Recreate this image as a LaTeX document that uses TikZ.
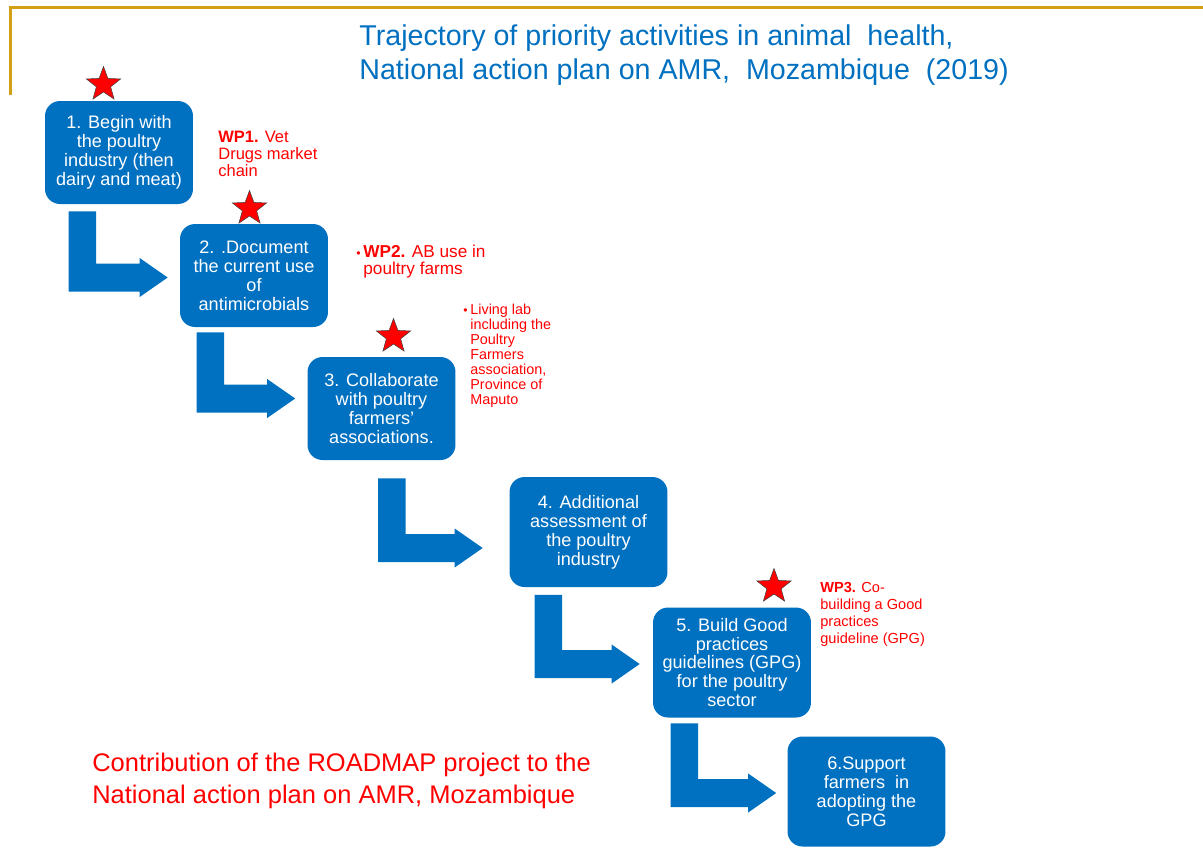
\documentclass[tikz,border=0pt]{standalone}
\usepackage{fontspec}
\setmainfont{Liberation Sans}
\usepackage{tikz}
\usetikzlibrary{positioning}
\usetikzlibrary{calc}
\usetikzlibrary{shapes.geometric}
\definecolor{boxblue}{RGB}{0,112,192}
\definecolor{wpred}{RGB}{255,0,0}
\definecolor{framegold}{RGB}{210,160,20}
\newcommand{\wpbullet}{\llap{\scriptsize\textbullet\hspace{1.5pt}}}
% Bent block arrow: #1 top left corner of the stem, #2 tip
\newcommand{\bentarrow}[2]{%
  \fill[boxblue] (#1) -- ++(27.5,0) |- ($(#2)+(-28,-14)$) -- ++(0,-5.5)
    -- (#2) -- ++(-28,19.5) -- ++(0,-5.5) -| (#1) -- cycle;}
\tikzset{
  stepbox/.style={fill=boxblue, text=white, rounded corners=0.3cm, align=center,
    inner sep=0pt, minimum width=2.96cm, minimum height=2.06cm,
    font=\fontsize{10.3}{10.8}\selectfont},
  widebox/.style={stepbox, minimum width=3.16cm, minimum height=2.2cm},
  prio star/.style={star, star points=5, star point ratio=2.4, fill=wpred,
    draw=black!75, line width=0.3pt, minimum size=0.72cm, inner sep=0pt},
  wptext/.style={text=wpred, align=left, anchor=west, inner sep=0pt}
}

\begin{document}
\begin{tikzpicture}[x=0.02cm,y=-0.02cm]
        \path[use as bounding box, fill=white] (0,0) rectangle (1203,867);
        % Gold frame and title
        \draw[framegold, line width=1.7pt] (1203,7.5) -- (10.5,7.5) -- (10.5,95);
        \node[text=boxblue, align=left, anchor=west, inner sep=0pt,
          font=\fontsize{16.3}{19.3}\selectfont] (title) at (359,55)
          {Trajectory of priority activities in animal\ \ health,\\
           National action plan on AMR,\ \ Mozambique\ \ (2019)};
        % Steps of the trajectory
        \node[stepbox] (box1) at (119,152.5) {1. Begin with\\the poultry\\industry (then\\dairy and meat)};
        \node[stepbox] (box2) at (254,275.5) {2. .Document\\the current use\\of\\antimicrobials};
        \node[stepbox] (box3) at (381.5,408.5) {3. Collaborate\\with poultry\\farmers'\\associations.};
        \node[widebox] (box4) at (588.5,532) {4. Additional\\assessment of\\the poultry\\industry};
        \node[widebox] (box5) at (732,662.5) {5. Build Good\\practices\\guidelines (GPG)\\for the poultry\\sector};
        \node[widebox] (box6) at (866.5,791.5) {6.Support\\farmers\ \ in\\adopting the\\GPG};
        % Bent arrows from one step to the next
        \coordinate (a1s) at ($(box1.south west)+(24,7)$);
        \coordinate (a1t) at ($(box2.west)+(-12,2)$);
        \coordinate (a2s) at ($(box2.south west)+(17,5)$);
        \coordinate (a2t) at ($(box3.west)+(-12,-10)$);
        \coordinate (a3s) at ($(box3.south west)+(71,18)$);
        \coordinate (a3t) at ($(box4.west)+(-26.5,16)$);
        \coordinate (a4s) at ($(box4.south west)+(25.5,7.5)$);
        \coordinate (a4t) at ($(box5.west)+(-13,1.5)$);
        \coordinate (a5s) at ($(box5.south west)+(18,5.5)$);
        \coordinate (a5t) at ($(box6.west)+(-11,1.5)$);
        \bentarrow{a1s}{a1t}
        \bentarrow{a2s}{a2t}
        \bentarrow{a3s}{a3t}
        \bentarrow{a4s}{a4t}
        \bentarrow{a5s}{a5t}
        % Stars on the steps done by the project
        \node[prio star] (star1) at (103.5,84.5) {};
        \node[prio star] (star2) at (249.5,208.5) {};
        \node[prio star] (star3) at (393.5,336.5) {};
        \node[prio star] (star5) at (774,586.5) {};
        % Work packages
        \node[wptext, font=\fontsize{9.4}{9.6}\selectfont] (wp1) at (218,154)
          {\textbf{WP1.} Vet\\Drugs market\\chain};
        \node[wptext, font=\fontsize{9.8}{9.6}\selectfont] (wp2) at (363,261.5)
          {\wpbullet\textbf{WP2.} AB use in\\poultry farms};
        \node[wptext, font=\fontsize{8.2}{8.5}\selectfont] (lab) at (470,356)
          {\wpbullet Living lab\\including the\\Poultry\\Farmers\\association,\\Province of\\Maputo};
        \node[wptext, font=\fontsize{8.3}{9.6}\selectfont] (wp3) at (820,614.5)
          {\textbf{WP3.} Co-\\building a Good\\practices\\guideline (GPG)};
        % Caption
        \node[wptext, font=\fontsize{14.5}{18.1}\selectfont] (roadmap) at (92,781)
          {Contribution of the ROADMAP project to the\\National action plan on AMR, Mozambique};
      \end{tikzpicture}
\end{document}
